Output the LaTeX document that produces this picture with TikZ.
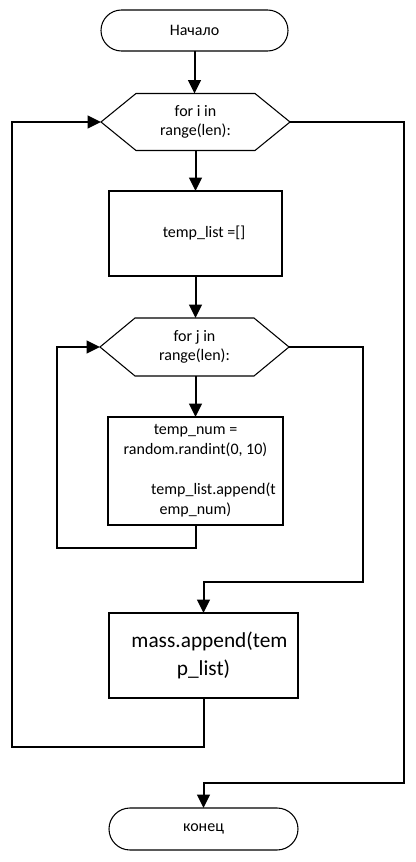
\documentclass[tikz,border=0pt]{standalone}
\usepackage{fontspec}
\setmainfont{Carlito}
\usetikzlibrary{arrows.meta,shapes.misc}
\begin{document}
\begin{tikzpicture}[x=0.75pt,y=-0.75pt,
  every node/.style={outer sep=0pt, inner sep=0pt},
  txt/.style={font=\fontsize{12}{14.6}\selectfont, align=center},
  term/.style={draw, line width=0.8pt, rounded rectangle, txt},
  procbox/.style={draw, line width=0.8pt, rectangle, txt},
  hexbox/.style={rectangle, txt},
  hexline/.style={line width=0.8pt, line join=miter},
  conn/.style={line width=1.5pt, -{Triangle[length=10pt,width=9.5pt]}},
  plain/.style={line width=1.5pt}]
\useasboundingbox (0,0) rectangle (415,862);

\node[term, minimum width=140.25pt, minimum height=30.75pt] (s) at (194.5,30.5) {Начало};

\node[hexbox, minimum width=141.75pt, minimum height=42.75pt] (h1) at (195.5,122) {for i in\\range(len):};
\draw[hexline] (h1.west) -- ([xshift=26.25pt]h1.north west) -- ([xshift=-26.25pt]h1.north east) -- (h1.east) -- ([xshift=-26.25pt]h1.south east) -- ([xshift=26.25pt]h1.south west) -- cycle;

\node[procbox, minimum width=129.75pt, minimum height=63.75pt] (b1) at (195.5,233.5) {\hspace*{12.75pt}temp\_list =[]};

\node[hexbox, minimum width=141.75pt, minimum height=43.5pt] (h2) at (194.5,347) {for j in\\range(len):};
\draw[hexline] (h2.west) -- ([xshift=26.25pt]h2.north west) -- ([xshift=-26.25pt]h2.north east) -- (h2.east) -- ([xshift=-26.25pt]h2.south east) -- ([xshift=26.25pt]h2.south west) -- cycle;

\node[procbox, minimum width=131.25pt, minimum height=81pt, font=\fontsize{12}{15}\selectfont] (b2) at (195.5,471)
  {temp\_num =\\random.randint(0, 10)\\[15pt]\hspace*{27pt}temp\_list.append(t\\emp\_num)};

\node[procbox, minimum width=141.75pt, minimum height=63.75pt, font=\fontsize{16}{21}\selectfont] (b3) at (203.5,655.5)
  {\hspace*{9pt}mass.append(tem\\p\_list)};

\node[term, minimum width=141.75pt, minimum height=31.5pt] (e) at (203.5,829) {конец};

\coordinate (l2) at (57,548);
\coordinate (r2) at (363,582);
\coordinate (l1) at (12,747);
\coordinate (r1) at (404,783);

\draw[conn] (s.south) -- (h1.north -| s.south);
\draw[conn] (h1.south) -- (b1.north);
\draw[conn] (b1.south) -- (h2.north -| b1.south);
\draw[conn] (h2.south -| b2.north) -- (b2.north);
\draw[conn] (b2.south) |- (l2) |- (h2.west);
\draw[conn] (h2.east) -| (r2) -| (b3.north);
\draw[conn] (b3.south) |- (l1) |- (h1.west);
\draw[conn] (h1.east) -| (r1) -| (e.north);
\end{tikzpicture}
\end{document}
